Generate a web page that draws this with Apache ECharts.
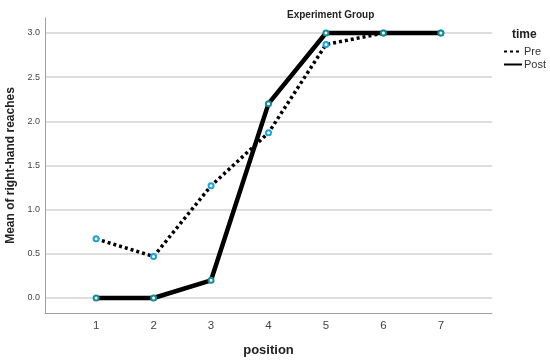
<!DOCTYPE html>
<html><head><meta charset="utf-8">
<script src="https://cdn.jsdelivr.net/npm/echarts@6/dist/echarts.min.js"></script>
<style>html,body{margin:0;padding:0;background:#fff}#c{width:550px;height:362px}</style>
</head><body><div id="c"></div>
<script>
const positions = [1, 2, 3, 4, 5, 6, 7];
const preValues = [0.67, 0.47, 1.27, 1.87, 2.87, 3.0, 3.0];
const postValues = [0.0, 0.0, 0.2, 2.2, 3.0, 3.0, 3.0];
const yTicks = [0, 0.5, 1.0, 1.5, 2.0, 2.5, 3.0];
const xTicks = [1, 2, 3, 4, 5, 6, 7];

const chart = echarts.init(document.getElementById('c'));
const font = 'Liberation Sans, Arial, sans-serif';
const mk = (arr) => positions.map((p, i) => [p, arr[i]]);
chart.setOption({
  animation: false,
  title: [
    {text: 'Experiment Group', left: 282, top: 5, textStyle: {fontFamily: font, fontSize: 10, fontWeight: 'bold', color: '#222'}},
    {text: 'time', left: 507, top: 24, textStyle: {fontFamily: font, fontSize: 12, fontWeight: 'bold', color: '#222'}}
  ],
  legend: {
    orient: 'vertical', left: 498, top: 41, itemGap: 2, itemWidth: 18, itemHeight: 10,
    textStyle: {fontFamily: font, fontSize: 11, color: '#333', padding: [0,0,0,-3]},
    itemStyle: {opacity: 0},
    data: ['Pre', 'Post']
  },
  grid: {left: 45, right: 58, top: 18, bottom: 49, outerBoundsMode: 'none', containLabel: false},
  xAxis: {
    type: 'value', min: 0.11, max: 7.89,
    name: 'position', nameLocation: 'middle', nameGap: 31,
    nameTextStyle: {fontFamily: font, fontSize: 13, fontWeight: 'bold', color: '#222'},
    axisLine: {show: true, onZero: false, lineStyle: {color: '#a0a0a0', width: 1}},
    axisTick: {show: false, customValues: xTicks},
    splitLine: {show: false},
    axisLabel: {customValues: xTicks, fontFamily: font, fontSize: 11.5, color: '#444', margin: 7}
  },
  yAxis: {
    type: 'value', min: -0.17, max: 3.17,
    name: 'Mean of right-hand reaches', nameLocation: 'middle', nameGap: 27,
    nameTextStyle: {fontFamily: font, fontSize: 12, fontWeight: 'bold', color: '#222'},
    axisLine: {show: true, onZero: false, lineStyle: {color: '#a0a0a0', width: 1}},
    axisTick: {show: false, customValues: yTicks},
    splitLine: {show: true, lineStyle: {color: '#d2d2d2', width: 1.5}},
    axisLabel: {customValues: yTicks, fontFamily: font, fontSize: 9, color: '#444', margin: 5,
      formatter: v => v.toFixed(1)}
  },
  series: [
    {name: 'Pre', type: 'line', data: mk(preValues), symbol: 'emptyCircle', symbolSize: 5,
     itemStyle: {color: '#1aa3dc', borderWidth: 1.5},
     lineStyle: {color: '#000', width: 3.5, type: [3, 3]}, z: 2},
    {name: 'Post', type: 'line', data: mk(postValues), symbol: 'emptyCircle', symbolSize: 5,
     itemStyle: {color: '#148a94', borderWidth: 1.2},
     lineStyle: {color: '#000', width: 4.5}, z: 3}
  ]
});
</script></body></html>
